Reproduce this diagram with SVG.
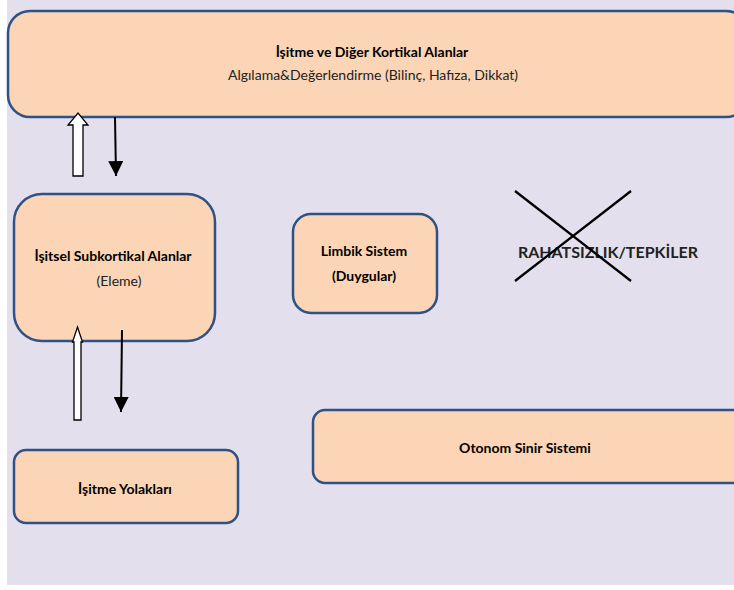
<svg xmlns="http://www.w3.org/2000/svg" width="734" height="590" viewBox="0 0 734 590">
<defs>
<style>
.box{fill:#FBD5B5;stroke:#2E5286;stroke-width:2.5}
.t{font-family:Lato,"Liberation Sans",sans-serif;font-size:14px;fill:#000;text-anchor:middle}
.b{font-weight:bold}
.g{fill:#222}
.hollow{fill:#fff;stroke:#000;stroke-width:1.3}
.ln{stroke:#000;stroke-width:2.3;fill:none}
</style>
<marker id="ah" viewBox="0 0 10 10" refX="10" refY="5" markerWidth="15" markerHeight="15" markerUnits="userSpaceOnUse" orient="auto">
<path d="M0,0 L10,5 L0,10 z" fill="#000"/>
</marker>
</defs>
<rect x="0" y="0" width="734" height="590" fill="#fff"/>
<rect x="7" y="0" width="727" height="585" fill="#E4DFEC"/>

<g id="kortikal">
<rect class="box" x="8" y="11" width="740" height="106" rx="22"/>
<text class="t b" x="372" y="57">İşitme ve Diğer Kortikal Alanlar</text>
<text class="t g" x="373" y="80">Algılama&amp;Değerlendirme (Bilinç, Hafıza, Dikkat)</text>
</g>

<g id="subkortikal">
<rect class="box" x="14" y="194" width="201" height="147" rx="28"/>
<text class="t b" x="113" y="261">İşitsel Subkortikal Alanlar</text>
<text class="t g" x="119" y="286">(Eleme)</text>
</g>

<g id="limbik">
<rect class="box" x="293" y="214" width="144" height="99" rx="18"/>
<text class="t b" x="364" y="256">Limbik Sistem</text>
<text class="t b" x="364" y="281">(Duygular)</text>
</g>

<g id="rahatsizlik">
<text x="608" y="258" style="font-family:Lato,'Liberation Sans',sans-serif;font-size:16px;font-weight:bold;fill:#222;text-anchor:middle">RAHATSIZLIK/TEPKİLER</text>
<line class="ln" x1="515" y1="191" x2="631" y2="281"/>
<line class="ln" x1="515" y1="281" x2="631" y2="191"/>
</g>

<g id="yolaklar">
<rect class="box" x="14" y="450" width="224" height="73" rx="12"/>
<text class="t b" x="125" y="494">İşitme Yolakları</text>
</g>

<g id="otonom">
<rect class="box" x="313" y="410" width="440" height="73" rx="12"/>
<text class="t b" x="525" y="453">Otonom Sinir Sistemi</text>
</g>

<g id="connectors">
<path class="hollow" d="M73,176 L73,125 L68,125 L78,113 L88,125 L83,125 L83,176 Z"/>
<line x1="115" y1="117" x2="116" y2="176" stroke="#000" stroke-width="2" marker-end="url(#ah)"/>
<path class="hollow" d="M74,420 L74,342 L72.5,342 L77.5,327 L82.5,342 L81,342 L81,420 Z"/>
<line x1="122" y1="330" x2="121" y2="412" stroke="#000" stroke-width="2" marker-end="url(#ah)"/>
</g>
</svg>
